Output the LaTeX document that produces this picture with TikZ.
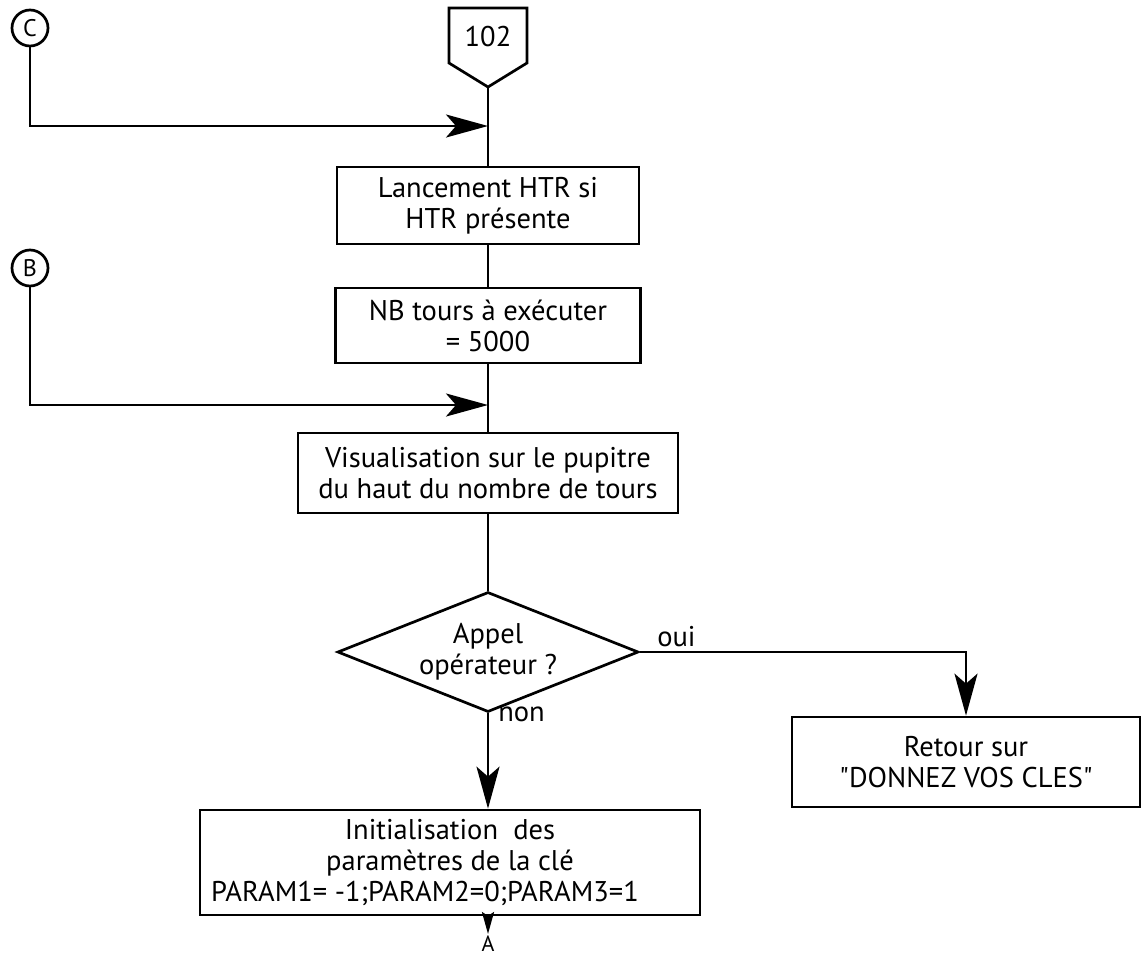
\documentclass[tikz,border=0pt]{standalone}
\usepackage{fontspec}
\setmainfont{PT Sans}
\newfontfamily\plainquote{PT Sans}[Ligatures=TeXOff]
\usetikzlibrary{arrows.meta,shapes.geometric}
\begin{document}
\begin{tikzpicture}[x=1pt,y=-1pt,
  line width=2.7pt,
  txt/.style={font=\fontsize{28.5}{31}\selectfont},
  stepbox/.style={draw, rectangle, align=center, inner sep=0pt, txt},
  decision/.style={draw, diamond, shape aspect=2.5, align=center, inner sep=0pt, txt},
  connector/.style={draw, circle, minimum size=36pt, inner sep=0pt, font=\fontsize{24}{26}\selectfont},
  tip/.style={-{Stealth[length=42pt,width=23pt,inset=10pt]}},
  smalltip/.style={-{Stealth[length=22pt,width=12pt,inset=4pt]}},
  lbl/.style={txt, inner sep=0pt}
]
\useasboundingbox (0,0) rectangle (1141,956);

% entry point 102
\draw (449,8) -- (527,8) -- (527,63) -- (488,87) -- (449,63) -- cycle;
\node[txt] (t102) at (488,37) {102};
\coordinate (p102) at (488,87);

% off-page connectors
\node[connector] (C) at (30,28) {C};
\node[connector] (B) at (30,268) {B};

% process steps
\node[stepbox, minimum width=302pt, minimum height=77pt] (b1) at (488,205.5)
  {Lancement HTR si\\HTR présente};
\node[stepbox, minimum width=305pt, minimum height=75pt] (b2) at (488,325.5)
  {NB tours à exécuter\\= 5000};
\node[stepbox, minimum width=380pt, minimum height=80pt] (b3) at (488,473)
  {Visualisation sur le pupitre\\du haut du nombre de tours};
\node[decision, minimum width=301pt, minimum height=120pt] (dec) at (488,652)
  {Appel\\opérateur ?};
\node[stepbox, minimum width=348pt, minimum height=90pt] (b4) at (966,762)
  {Retour sur\\{\plainquote"}DONNEZ VOS CLES{\plainquote"}};
\node[stepbox, minimum width=500pt, minimum height=105pt] (b5) at (450,862.5)
  {Initialisation\ \ des\\paramètres de la clé\\\hspace*{-50pt}PARAM1= -1;PARAM2=0;PARAM3=1};

% joins on the main line
\coordinate (cj) at (488,126);
\coordinate (bj) at (488,405);
\coordinate (aend) at (488,934);

% connectors
\draw (p102) -- (b1.north);
\draw[tip] (C.south) |- (cj);
\draw (b1.south) -- (b2.north);
\draw (b2.south) -- (b3.north);
\draw[tip] (B.south) |- (bj);
\draw (b3.south) -- (dec.north);
\draw[tip] (dec.east) -| (b4.north);
\draw[tip] (dec.south) -- (dec.south |- b5.north);
\draw[smalltip] (aend |- b5.south) -- (aend);

% labels
\node[lbl, anchor=south west] (oui) at (656,648) {oui};
\node[lbl, anchor=west] (non) at (497,714) {non};
\node[font=\fontsize{22}{24}\selectfont, inner sep=0pt, anchor=north] (A) at (aend) {A};
\end{tikzpicture}
\end{document}
